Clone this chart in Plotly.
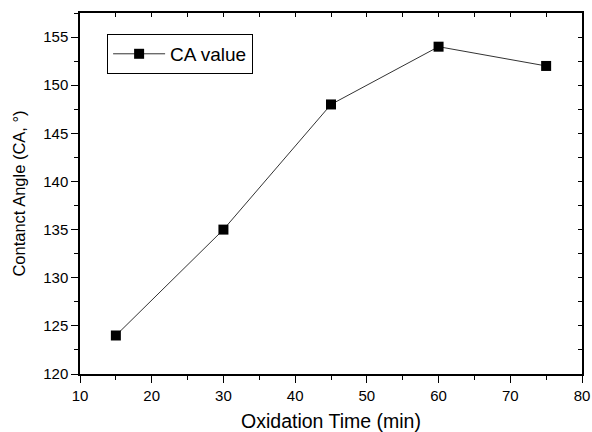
import plotly.graph_objects as go

time_min = [15, 30, 45, 60, 75]
ca_value = [124, 135, 148, 154, 152]
series_name = "CA value"

fig = go.Figure()
fig.add_trace(go.Scatter(
    x=time_min, y=ca_value, mode="lines+markers", name=series_name,
    line=dict(color="#333333", width=1),
    marker=dict(symbol="square", size=10, color="black"),
))
# invisible trace for mirrored axes
fig.add_trace(go.Scatter(x=[time_min[0]], y=[ca_value[0]], xaxis="x2", yaxis="y2",
                         mode="markers", marker=dict(opacity=0), showlegend=False,
                         hoverinfo="skip"))

font = "Liberation Sans, Arial, sans-serif"
xr = [10, 80]
yr = [120, 157.5]

fig.update_layout(
    width=592, height=432,
    margin=dict(l=80, r=10, t=13, b=58, autoexpand=False),
    paper_bgcolor="white", plot_bgcolor="white",
    font=dict(family=font, size=15, color="black"),
    showlegend=True,
    legend=dict(x=0.054, y=0.942, xanchor="left", yanchor="top",
                bordercolor="black", borderwidth=1, bgcolor="white",
                font=dict(size=19, family=font),
                itemwidth=52, tracegroupgap=0),
    xaxis=dict(range=xr, dtick=10, tick0=10, ticks="outside", ticklen=7, tickwidth=1,
               tickcolor="black", showline=True, linecolor="black", linewidth=1.5,
               mirror=True, showgrid=False, zeroline=False, automargin=False,
               minor=dict(dtick=5, ticks="outside", ticklen=4, tickcolor="black", showgrid=False),
               title=dict(text="Oxidation Time (min)", font=dict(size=19.5), standoff=19),
               tickfont=dict(size=15)),
    yaxis=dict(range=yr, dtick=5, tick0=120, ticks="outside", ticklen=7, tickwidth=1,
               tickcolor="black", showline=True, linecolor="black", linewidth=1.5,
               mirror=True, showgrid=False, zeroline=False, automargin=False,
               minor=dict(dtick=2.5, ticks="outside", ticklen=4, tickcolor="black", showgrid=False),
               title=dict(text="Contanct Angle (CA, °)", font=dict(size=16.5), standoff=13),
               tickfont=dict(size=15)),
    xaxis2=dict(range=xr, overlaying="x", side="top", dtick=5, tick0=10, ticks="inside",
                ticklen=4, tickcolor="black", showticklabels=False, showline=False,
                showgrid=False, zeroline=False, automargin=False),
    yaxis2=dict(range=yr, overlaying="y", side="right", dtick=2.5, tick0=120, ticks="inside",
                ticklen=4, tickcolor="black", showticklabels=False, showline=False,
                showgrid=False, zeroline=False, automargin=False),
)

fig.write_html("out.html")
